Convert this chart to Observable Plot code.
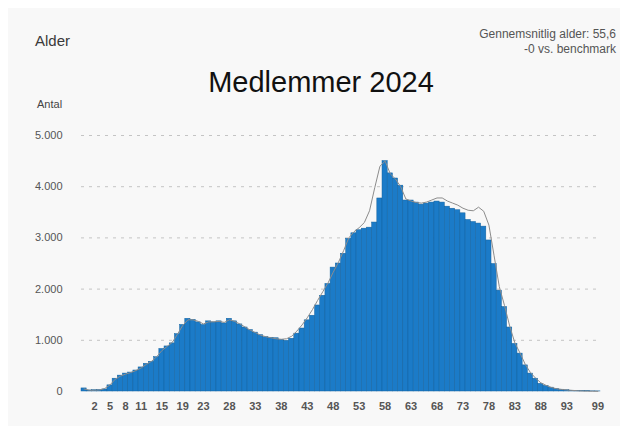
<!DOCTYPE html>
<html>
<head>
<meta charset="utf-8">
<script src="https://cdn.jsdelivr.net/npm/d3@7"></script>
<script src="https://cdn.jsdelivr.net/npm/@observablehq/plot@0.6"></script>
<style>
  html, body { margin: 0; padding: 0; background: #ffffff; }
  body { width: 620px; height: 426px; overflow: hidden; font-family: "Liberation Sans", Arial, sans-serif; }
  #card { position: absolute; left: 8px; top: 8px; width: 612px; height: 418px; background: #f8f8f8; }
  #header { position: relative; width: 620px; height: 115px; }
  #alder { position: absolute; left: 35px; top: 32px; font-size: 15px; color: #3a3a3a; }
  #stats { position: absolute; right: 4px; top: 27px; font-size: 12px; line-height: 15px; color: #555; text-align: right; }
  #title { position: absolute; left: 0; width: 642px; top: 66px; text-align: center; font-size: 29px; color: #111; }
  #antal { position: absolute; left: 37px; top: 98px; font-size: 11px; color: #444; }
  #chart { position: relative; }
</style>
</head>
<body>
<div id="card"></div>
<div id="header">
  <div id="alder">Alder</div>
  <div id="stats">Gennemsnitlig alder: 55,6<br>-0 vs. benchmark</div>
  <div id="title">Medlemmer 2024</div>
  <div id="antal">Antal</div>
</div>
<div id="chart"></div>
<script>
const ages = [0,1,2,3,4,5,6,7,8,9,10,11,12,13,14,15,16,17,18,19,20,21,22,23,24,25,26,27,28,29,30,31,32,33,34,35,36,37,38,39,40,41,42,43,44,45,46,47,48,49,50,51,52,53,54,55,56,57,58,59,60,61,62,63,64,65,66,67,68,69,70,71,72,73,74,75,76,77,78,79,80,81,82,83,84,85,86,87,88,89,90,91,92,93,94,95,96,97,98,99];

const members = [60,20,25,30,40,120,250,310,350,370,
  410,470,540,580,670,830,880,940,1120,1300,
  1420,1400,1350,1300,1370,1350,1370,1330,1420,1370,
  1310,1250,1200,1150,1100,1060,1050,1040,1010,990,
  1030,1130,1230,1390,1480,1680,1870,2100,2420,2500,
  2690,2980,3090,3150,3180,3200,3300,3770,4500,4260,
  4160,4020,3730,3730,3690,3650,3670,3690,3710,3690,
  3610,3570,3540,3480,3350,3310,3280,3220,2950,2490,
  1970,1650,1250,930,740,510,350,250,150,110,
  75,50,35,25,15,10,7,5,3,2];

const benchmark = [50,25,25,30,60,130,240,300,340,370,
  410,460,530,590,680,800,880,960,1120,1290,
  1400,1400,1370,1320,1360,1360,1370,1350,1400,1370,
  1320,1260,1200,1150,1100,1070,1050,1030,1020,1030,
  1080,1180,1300,1440,1600,1780,1950,2120,2330,2520,
  2750,3000,3120,3200,3300,3530,3980,4400,4500,4250,
  4150,4000,3760,3720,3690,3680,3700,3740,3780,3780,
  3720,3680,3640,3580,3540,3530,3600,3520,3250,2650,
  2050,1680,1280,950,750,530,370,260,170,120,
  80,55,40,30,22,15,10,7,5,3];

const xTicks = [2,5,8,11,15,19,23,28,33,38,43,48,53,58,63,68,73,78,83,88,93,99];
const yTicks = [0,1000,2000,3000,4000,5000];

const data = ages.map((a, i) => ({age: a, members: members[i], benchmark: benchmark[i]}));
const fmt = d => d3.format(",")(d).replace(/,/g, ".");

const chart = Plot.plot({
  width: 620,
  height: 311,
  marginLeft: 81,
  marginRight: 20,
  marginTop: 20,
  marginBottom: 35,
  style: {background: "transparent", fontFamily: "Liberation Sans, Arial, sans-serif"},
  x: {type: "linear", domain: [-0.5, 99.5], label: null},
  y: {domain: [0, 5000], label: null},
  marks: [
    Plot.ruleY(yTicks.filter(d => d > 0), {stroke: "#c4c4c4", strokeDasharray: "3,5", strokeWidth: 1}),
    Plot.rectY(data, {x1: d => d.age - 0.5, x2: d => d.age + 0.5, y: "members", fill: "#1b7bc8", stroke: "#12629f", strokeWidth: 0.5}),
    Plot.lineY(data, {x: "age", y: "benchmark", stroke: "#8c8c8c", strokeWidth: 1}),
    Plot.axisX({ticks: xTicks, tickSize: 0, tickPadding: 11, fontSize: 11, fill: "#555", tickFormat: d => String(d), fontWeight: "bold"}),
    Plot.axisY({ticks: yTicks, tickSize: 0, tickPadding: 19, fontSize: 11, fill: "#555", tickFormat: fmt})
  ]
});
document.getElementById("chart").appendChild(chart);
</script>
</body>
</html>
